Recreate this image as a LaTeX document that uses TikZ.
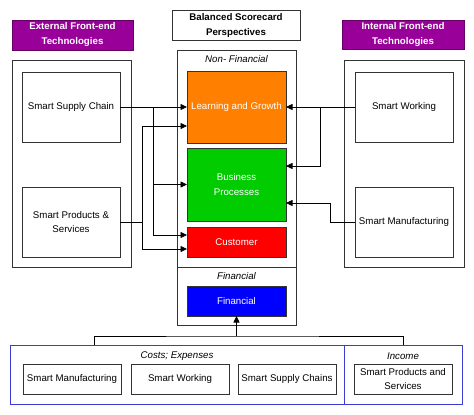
\documentclass[tikz,border=0pt]{standalone}
\usepackage{fontspec}
\setmainfont{Liberation Sans}
\usetikzlibrary{arrows.meta}
\definecolor{ttlpurple}{RGB}{153,0,153}
\definecolor{ttlborder}{RGB}{102,0,102}
\definecolor{lgorange}{RGB}{255,128,0}
\definecolor{bpgreen}{RGB}{0,204,0}
\definecolor{cured}{RGB}{255,0,0}
\definecolor{fiblue}{RGB}{0,0,255}
\definecolor{frameblue}{RGB}{60,60,210}
\tikzset{
  box/.style={draw=black!80, line width=0.9pt, inner sep=0pt, outer sep=0pt, align=center,
    font=\fontsize{9.7}{14.5}\selectfont},
  ttl/.style={box, fill=ttlpurple, draw=ttlborder, text=white, font=\fontsize{9.7}{15}\selectfont\bfseries},
  colbox/.style={box, text=white},
  frame/.style={draw=black!80, line width=0.9pt, inner sep=0pt, outer sep=0pt},
  bframe/.style={draw=frameblue, line width=0.9pt, inner sep=0pt, outer sep=0pt},
  lbl/.style={font=\fontsize{9.7}{12}\selectfont\itshape, inner sep=0pt},
  conn/.style={draw=black, line width=0.8pt},
  arr/.style={conn, -{Triangle[length=6.5pt,width=6pt]}},
}
\begin{document}
\begin{tikzpicture}[x=1pt,y=-1pt]
\useasboundingbox (0,0) rectangle (474,415);
% titles
\node[ttl, minimum width=121pt, minimum height=30pt] (extT) at (72.5,35) {External Front-end\\Technologies};
\node[ttl, minimum width=122pt, minimum height=29pt] (intT) at (403,34.5) {Internal Front-end\\Technologies};
\node[box, font=\fontsize{9.7}{15}\selectfont\bfseries, minimum width=128pt, minimum height=30pt] (bsc) at (236,25) {Balanced Scorecard\\Perspectives};
% left group
\node[frame, minimum width=119pt, minimum height=207pt] (leftOuter) at (71.5,163.5) {};
\node[box, minimum width=98pt, minimum height=70pt] (ssc) at (71,107) {Smart Supply Chain};
\node[box, minimum width=98pt, minimum height=70pt] (spsL) at (71,222) {Smart Products \&\\Services};
% right group
\node[frame, minimum width=120pt, minimum height=207pt] (rightOuter) at (404,163.5) {};
\node[box, minimum width=98pt, minimum height=70pt] (sw) at (404,107) {Smart Working};
\node[box, minimum width=98pt, minimum height=70pt] (smR) at (404,222) {Smart Manufacturing};
% center
\node[frame, minimum width=119pt, minimum height=275pt] (center) at (236.5,187.5) {};
\draw[frame] (center.west |- 0,267) -- (center.east |- 0,267);
\node[lbl] (nfl) at (236.5,59) {Non- Financial};
\node[colbox, fill=lgorange, minimum width=99pt, minimum height=72pt] (lg) at (236.5,107) {Learning and Growth};
\node[colbox, fill=bpgreen, minimum width=99pt, minimum height=73pt] (bp) at (236.5,184.5) {Business\\Processes};
\node[colbox, fill=cured, minimum width=99pt, minimum height=30pt] (cust) at (236.5,242) {Customer};
\node[lbl] (fl) at (236.5,276) {Financial};
\node[colbox, fill=fiblue, minimum width=99pt, minimum height=30pt] (fin) at (236.5,301) {Financial};
% bottom
\node[bframe, minimum width=334pt, minimum height=59pt] (costsBox) at (177,374.5) {};
\node[bframe, minimum width=118pt, minimum height=59pt] (incomeBox) at (403,374.5) {};
\node[lbl] (cl) at (177,356) {Costs; Expenses};
\node[lbl] (il) at (403,356) {Income};
\node[box, minimum width=98pt, minimum height=30pt] (bm) at (72,379) {Smart Manufacturing};
\node[box, minimum width=98pt, minimum height=30pt] (bw) at (180,379) {Smart Working};
\node[box, minimum width=98pt, minimum height=30pt] (bsch) at (287,379) {Smart Supply Chains};
\node[box, minimum width=98pt, minimum height=30pt] (bps) at (403,379) {Smart Products and\\Services};
% left connectors
\coordinate (j1) at (153,107);
\coordinate (j2) at (142,222);
\draw[arr] (ssc.east) -- (lg.west);
\draw[arr] (j1) |- (bp.west);
\draw[arr] (j1) |- ([yshift=7pt]cust.west);
\draw[conn] (spsL.east) -- (j2);
\draw[arr] (j2) |- ([yshift=-19pt]lg.west);
\draw[arr] (j2) |- ([yshift=-7pt]cust.west);
% right connectors
\coordinate (j3) at (320,107);
\coordinate (j4) at (330,222);
\draw[arr] (sw.west) -- (lg.east);
\draw[arr] (j3) |- ([yshift=18.5pt]bp.east);
\draw[arr] (smR.west) -- (j4) |- ([yshift=-18.5pt]bp.east);
% bottom connectors
\coordinate (bus) at (236.5,336);
\draw[conn] ([xshift=-83pt]costsBox.north) |- (bus) -| (incomeBox.north);
\draw[arr] (bus) -- (fin.south);
\end{tikzpicture}
\end{document}
